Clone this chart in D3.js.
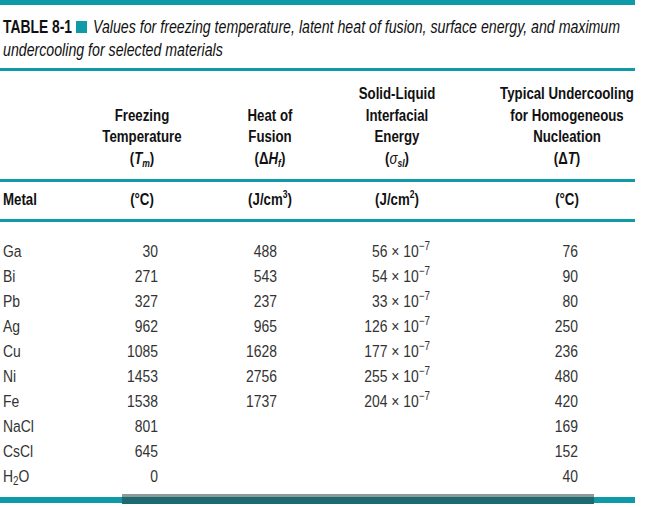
<!DOCTYPE html>
<html>
<head>
<meta charset="utf-8">
<script src="https://cdn.jsdelivr.net/npm/d3@7"></script>
<style>
  html, body { margin: 0; padding: 0; background: #fff; }
  svg { display: block; }
</style>
</head>
<body>
<script>
// ---- Data ----
const materials = ["Ga", "Bi", "Pb", "Ag", "Cu", "Ni", "Fe", "NaCl", "CsCl", "H2O"];
const freezingTemp = [30, 271, 327, 962, 1085, 1453, 1538, 801, 645, 0];
const heatOfFusion = [488, 543, 237, 965, 1628, 2756, 1737, null, null, null];
const interfacialEnergy = [56, 54, 33, 126, 177, 255, 204, null, null, null]; // × 10^-7 J/cm²
const undercooling = [76, 90, 80, 250, 236, 480, 420, 169, 152, 40];
const columnKeys = ["metal", "tm", "hf", "sigma", "dt"];

const W = 649, H = 507;
const TEAL = "#0f9aa8";
const FONT = "'Liberation Sans', Arial, Helvetica, sans-serif";
const SX = 0.82;      // narrow factor for body text
const SX_HDR = 0.78;  // narrow factor for header text

const svg = d3.select("body").append("svg").attr("width", W).attr("height", H)
  .attr("font-family", FONT);

// scales
const xCenter = d3.scaleOrdinal().domain(columnKeys).range([3, 142, 270, 397, 567]);
const xRight = d3.scaleOrdinal().domain(columnKeys).range([3, 158, 277, 430, 578]);
const y = d3.scalePoint().domain(materials).range([251, 476]);

// narrow text helper: a group scaled horizontally around its anchor point
function ntext(parent, x, yy, anchor, sx) {
  const g = parent.append("g").attr("transform", `translate(${x},${yy}) scale(${sx == null ? SX : sx},1)`);
  return g.append("text").attr("x", 0).attr("y", 0).attr("text-anchor", anchor || "start");
}
function fit(t, x, yy, width) {
  const w = t.node().getComputedTextLength();
  d3.select(t.node().parentNode).attr("transform", `translate(${x},${yy}) scale(${width / w},1)`);
  return width / w;
}

// rules
function rule(y0, h, x1) {
  svg.append("rect").attr("x", 0).attr("y", y0).attr("width", x1).attr("height", h).attr("fill", TEAL);
}
rule(0, 5, 635);
rule(68, 3, 635);
rule(179, 3, 635);
rule(219, 3, 635);
rule(497, 6, 635);
// bottom overlay band
svg.append("rect").attr("x", 122).attr("y", 495).attr("width", 472).attr("height", 9).attr("fill", "#1d6b70");
svg.append("rect").attr("x", 122).attr("y", 494).attr("width", 472).attr("height", 3).attr("fill", "#8c9a9b");

// title
const tg = svg.append("g").attr("fill", "#111").attr("font-size", 18);
const t0 = ntext(tg, 3, 33).attr("font-weight", "bold").text("TABLE 8-1");
fit(t0, 3, 33, 69);
tg.append("rect").attr("x", 76).attr("y", 21).attr("width", 11).attr("height", 12).attr("fill", TEAL);
const t1 = ntext(tg, 93, 33).attr("font-style", "italic")
  .text("Values for freezing temperature, latent heat of fusion, surface energy, and maximum");
const s1 = fit(t1, 93, 33, 527);
const t2 = ntext(tg, 3, 56, "start", s1).attr("font-style", "italic").text("undercooling for selected materials");

// header
const headerBase = [99, 121, 142, 164];
const hdr = svg.append("g").attr("font-size", 17).attr("font-weight", "bold").attr("fill", "#111");

function headerLines(key, lines) {
  const n = lines.length;
  lines.forEach((ln, i) => ln(ntext(hdr, xCenter(key), headerBase[4 - n + i], "middle", SX_HDR)));
}
const plain = s => t => t.text(s);
headerLines("tm", [plain("Freezing"), plain("Temperature"), t => {
  t.append("tspan").text("(");
  t.append("tspan").attr("font-style", "italic").text("T");
  t.append("tspan").attr("font-style", "italic").attr("font-size", 11).attr("dy", 3).text("m");
  t.append("tspan").attr("dy", -3).text(")");
}]);
headerLines("hf", [plain("Heat of"), plain("Fusion"), t => {
  t.append("tspan").text("(Δ");
  t.append("tspan").attr("font-style", "italic").text("H");
  t.append("tspan").attr("font-style", "italic").attr("font-size", 11).attr("dy", 3).text("f");
  t.append("tspan").attr("dy", -3).text(")");
}]);
headerLines("sigma", [plain("Solid-Liquid"), plain("Interfacial"), plain("Energy"), t => {
  t.append("tspan").text("(");
  t.append("tspan").attr("font-style", "italic").attr("font-weight", "normal").text("σ");
  t.append("tspan").attr("font-style", "italic").attr("font-size", 11).attr("dy", 3).text("sl");
  t.append("tspan").attr("dy", -3).text(")");
}]);
headerLines("dt", [plain("Typical Undercooling"), plain("for Homogeneous"), plain("Nucleation"), t => {
  t.append("tspan").text("(Δ");
  t.append("tspan").attr("font-style", "italic").text("T");
  t.append("tspan").text(")");
}]);

// units row
const unitsY = 205;
ntext(hdr, xCenter("metal"), unitsY, "start", SX_HDR).text("Metal");
ntext(hdr, xCenter("tm"), unitsY, "middle", SX_HDR).text("(°C)");
{
  const t = ntext(hdr, xCenter("hf"), unitsY, "middle", SX_HDR);
  t.append("tspan").text("(J/cm");
  t.append("tspan").attr("font-size", 11).attr("dy", -7).text("3");
  t.append("tspan").attr("dy", 7).text(")");
}
{
  const t = ntext(hdr, xCenter("sigma"), unitsY, "middle", SX_HDR);
  t.append("tspan").text("(J/cm");
  t.append("tspan").attr("font-size", 11).attr("dy", -7).text("2");
  t.append("tspan").attr("dy", 7).text(")");
}
ntext(hdr, xCenter("dt"), unitsY, "middle", SX_HDR).text("(°C)");

// body
const body = svg.append("g").attr("font-size", 17).attr("fill", "#333");
const rows = materials.map((m, i) => ({
  m, tm: freezingTemp[i], hf: heatOfFusion[i], sigma: interfacialEnergy[i], dt: undercooling[i]
}));
const rowG = body.selectAll("g.row").data(rows).join("g").attr("class", "row")
  .attr("transform", d => `translate(0,${y(d.m) + 6})`);

rowG.each(function(d) {
  const g = d3.select(this);
  const mt = ntext(g, xCenter("metal"), 0, "start");
  if (d.m === "H2O") {
    mt.append("tspan").text("H");
    mt.append("tspan").attr("font-size", 12).attr("dy", 3).text("2");
    mt.append("tspan").attr("dy", -3).text("O");
  } else mt.text(d.m);
  ntext(g, xRight("tm"), 0, "end").text(d.tm);
  if (d.hf != null) ntext(g, xRight("hf"), 0, "end").text(d.hf);
  if (d.sigma != null) {
    const st = ntext(g, xRight("sigma"), 0, "end");
    st.append("tspan").text(d.sigma + " × 10");
    st.append("tspan").attr("font-size", 12).attr("dy", -7).text("−7");
  }
  ntext(g, xRight("dt"), 0, "end").text(d.dt);
});
</script>
</body>
</html>
